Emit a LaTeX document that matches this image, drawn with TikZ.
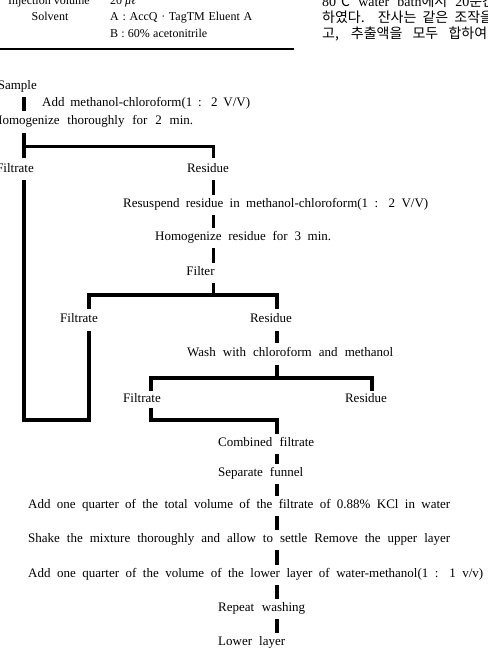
\documentclass[tikz,border=0pt]{standalone}
\usepackage{fontspec}
\setmainfont{Liberation Serif}
\newfontfamily\kr{Noto Sans CJK KR}
\newcommand{\sw}[2]{\makebox[#1pt][s]{#2}}
\begin{document}
\begin{tikzpicture}[x=1pt,y=-1pt,
  lbl/.style={inner sep=0pt, font=\fontsize{13}{15}\selectfont, text height=8.5pt, text depth=3pt},
  tbl/.style={inner sep=0pt, font=\fontsize{12}{14}\selectfont, text height=8pt, text depth=3pt},
  krl/.style={inner sep=0pt, font=\fontsize{14}{16}\selectfont, anchor=base west},
  bar/.style={line width=3.8pt, line cap=butt, line join=miter},
  sh/.style={shorten <=4.5pt, shorten >=4.5pt}]
\useasboundingbox (0,0) rectangle (488,649);
\clip (0,0) rectangle (488,649);

% ---- table fragment (top left)
\node[tbl, anchor=east] (inj) at (90,2) {Injection volume};
\node[tbl, anchor=west] (injv) at (110,2) {20 \textit{μℓ}};
\node[tbl] (solv) at (50,18) {Solvent};
\node[tbl, anchor=west] (solA) at (110,18) {\sw{142}{A : AccQ · TagTM Eluent A}};
\node[tbl, anchor=west] (solB) at (110,35) {\sw{97}{B : 60\% acetonitrile}};
\draw[line width=1.3pt] (0,49) -- (294,49);

% ---- Korean text fragment (top right)
\node[krl] (k1) at (322,6) {\sw{160}{80{\kr ℃} water bath{\kr 에서} 20{\kr 분}}{\kr 간}};
\node[krl] (k2) at (322,22) {\kr\sw{158}{하였다. 잔사는 같은 조작}을};
\node[krl] (k3) at (322,38) {\kr\sw{165}{고, 추출액을 모두 합하여}};

% ---- flow chart nodes
\node[lbl, anchor=east] (sample) at (37,87) {Sample};
\node[lbl, anchor=west] (add1) at (42,104) {\sw{208}{Add methanol-chloroform(1 : 2 V/V)}};
\node[lbl, anchor=west] (homog1) at (-7,122) {\sw{200}{Homogenize thoroughly for 2 min.}};
\node[lbl, anchor=east] (filtrate1) at (34,170) {Filtrate};
\node[lbl] (residue1) at (208,170) {Residue};
\node[lbl, anchor=west] (resusp) at (123,205) {\sw{305}{Resuspend residue in methanol-chloroform(1 : 2 V/V)}};
\node[lbl, anchor=west] (homog2) at (155,238) {\sw{176}{Homogenize residue for 3 min.}};
\node[lbl] (filter) at (200.5,273) {Filter};
\node[lbl] (filtrate2) at (79,320) {Filtrate};
\node[lbl] (residue2) at (271,320) {Residue};
\node[lbl, anchor=west] (wash) at (187,354) {\sw{206}{Wash with chloroform and methanol}};
\node[lbl] (filtrate3) at (142,400) {Filtrate};
\node[lbl] (residue3) at (366,400) {Residue};
\node[lbl, anchor=west] (combined) at (218,444) {\sw{96}{Combined filtrate}};
\node[lbl, anchor=west] (separate) at (218,474) {\sw{85}{Separate funnel}};
\node[lbl, anchor=west] (add2) at (28,506) {\sw{422}{Add one quarter of the total volume of the filtrate of 0.88\% KCl in water}};
\node[lbl, anchor=west] (shake) at (28,540) {\sw{422}{Shake the mixture thoroughly and allow to settle Remove the upper layer}};
\node[lbl, anchor=west] (add3) at (28,575) {\sw{455}{Add one quarter of the volume of the lower layer of water-methanol(1 : 1 v/v)}};
\node[lbl, anchor=west] (repeat) at (218,609) {\sw{87}{Repeat washing}};
\node[lbl, anchor=west] (lower) at (218,643) {\sw{67}{Lower layer}};

% ---- trunk positions and junctions
\coordinate (xa) at (24,0);
\coordinate (xb) at (213.5,0);
\coordinate (xc) at (277,0);
\coordinate (xl) at (89,0);
\coordinate (xf) at (151,0);
\coordinate (xr) at (372,0);
\coordinate (fork1) at (24,146.5);
\coordinate (fork2) at (213.5,295);
\coordinate (fork3) at (277,378);
\coordinate (loop1) at (24,420);
\coordinate (loop2) at (151,420);

% ---- connectors
\draw[bar, shorten <=4.5pt, shorten >=5.5pt] (sample.south -| xa) -- (homog1.north -| xa);
\draw[bar, shorten <=5.5pt, shorten >=6.5pt] (homog1.south -| xa) -- (filtrate1.north -| xa);
\draw[bar, shorten >=6.5pt] (fork1) -| (residue1.north -| xb);
\draw[bar, sh] (residue1.south -| xb) -- (resusp.north -| xb);
\draw[bar, sh] (resusp.south -| xb) -- (homog2.north -| xb);
\draw[bar, sh] (homog2.south -| xb) -- (filter.north -| xb);
\draw[bar, shorten <=4.5pt] (filter.south -| xb) -- (fork2);
\draw[bar, shorten <=5.5pt, shorten >=5.5pt] (filtrate2.north -| xl) |- (fork2) -| (residue2.north -| xc);
\draw[bar, shorten <=4.5pt, shorten >=5.5pt] (filtrate1.south -| xa) -- (loop1) -| (filtrate2.south -| xl);
\draw[bar, shorten <=5.5pt, shorten >=5.5pt] (residue2.south -| xc) -- (wash.north -| xc);
\draw[bar, shorten <=5.5pt] (wash.south -| xc) -- (fork3);
\draw[bar, shorten <=3.5pt, shorten >=3.5pt] (filtrate3.north -| xf) |- (fork3) -| (residue3.north -| xr);
\draw[bar, shorten <=2.5pt, shorten >=4.5pt] (filtrate3.south -| xf) -- (loop2) -| (combined.north -| xc);
\draw[bar, sh] (combined.south -| xc) -- (separate.north -| xc);
\draw[bar, sh] (separate.south -| xc) -- (add2.north -| xc);
\draw[bar, sh] (add2.south -| xc) -- (shake.north -| xc);
\draw[bar, sh] (shake.south -| xc) -- (add3.north -| xc);
\draw[bar, sh] (add3.south -| xc) -- (repeat.north -| xc);
\draw[bar, sh] (repeat.south -| xc) -- (lower.north -| xc);
\end{tikzpicture}
\end{document}
